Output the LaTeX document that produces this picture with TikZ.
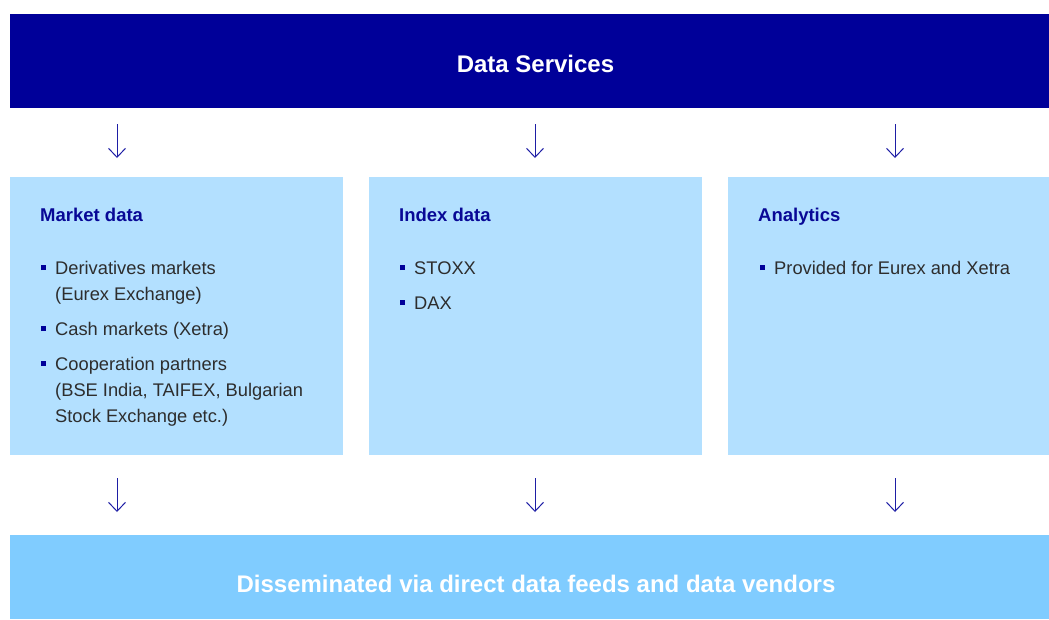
\documentclass[tikz,border=0pt]{standalone}
\usepackage{fontspec}
\setmainfont{Liberation Sans}
\usetikzlibrary{arrows.meta}

\definecolor{navy}{RGB}{0,0,153}
\definecolor{panel}{RGB}{179,224,255}
\definecolor{outbar}{RGB}{128,204,255}
\definecolor{headblue}{RGB}{8,8,150}
\definecolor{bodygray}{RGB}{45,45,45}
\definecolor{arrowblue}{RGB}{30,30,165}

% small square bullet hanging left of an item
\newcommand\sqbullet{\llap{\textcolor{navy}{\rule[4pt]{5pt}{5pt}}\hspace{9pt}}}
\newcommand\bodyfont{\fontsize{18.3}{26}\selectfont}

\begin{document}
\begin{tikzpicture}[x=1pt,y=-1pt,
  bar/.style={fill=#1,draw=none,inner sep=0,anchor=north west},
  bigtext/.style={anchor=base,inner sep=0,text=white,font=\fontsize{24}{28}\selectfont\bfseries},
  heading/.style={anchor=base west,inner sep=0,text=headblue,font=\fontsize{18.5}{24}\selectfont\bfseries},
  item/.style={anchor=base west,inner sep=0,text=bodygray,font=\bodyfont},
  flow/.style={draw=arrowblue,line width=1pt,-{Straight Barb[length=9pt,width=17pt,line width=1pt]}}
]
\useasboundingbox (0,0) rectangle (1049,619);

% bands and panels
\node[bar=navy,minimum width=1039pt,minimum height=94pt] (top) at (10,14) {};
\node[bar=panel,minimum width=333pt,minimum height=278pt] (market) at (10,177) {};
\node[bar=panel,minimum width=333pt,minimum height=278pt] (index) at (369,177) {};
\node[bar=panel,minimum width=321pt,minimum height=278pt] (analytics) at (728,177) {};
\node[bar=outbar,minimum width=1039pt,minimum height=84pt] (out) at (10,535) {};

\node[bigtext] (toptext) at (535.5,72) {Data Services};
\node[bigtext] (outtext) at (536,592) {Disseminated via direct data feeds and data vendors};

% panel headings
\node[heading] (h1) at (40,221) {Market data};
\node[heading] (h2) at (399,221) {Index data};
\node[heading] (h3) at (758,221) {Analytics};

% market data items
\node[item] (m1) at (55,274) {\begin{tabular}[t]{@{}l@{}}\sqbullet Derivatives markets\\(Eurex Exchange)\end{tabular}};
\node[item] (m2) at (55,335) {\sqbullet Cash markets (Xetra)};
\node[item] (m3) at (55,370) {\begin{tabular}[t]{@{}l@{}}\sqbullet Cooperation partners\\(BSE India, TAIFEX, Bulgarian\\Stock Exchange etc.)\end{tabular}};

% index data items
\node[item] (i1) at (414,274) {\sqbullet STOXX};
\node[item] (i2) at (414,309) {\sqbullet DAX};

% analytics items
\node[item] (a1) at (774,274) {\sqbullet Provided for Eurex and Xetra};

% flow arrows
\foreach \n/\x in {1/117,2/535,3/895}{
  \coordinate (ts\n) at (\x,124);
  \coordinate (te\n) at (\x,158);
  \coordinate (bs\n) at (\x,478);
  \coordinate (be\n) at (\x,512);
  \draw[flow] (ts\n) -- (te\n);
  \draw[flow] (bs\n) -- (be\n);
}
\end{tikzpicture}
\end{document}
